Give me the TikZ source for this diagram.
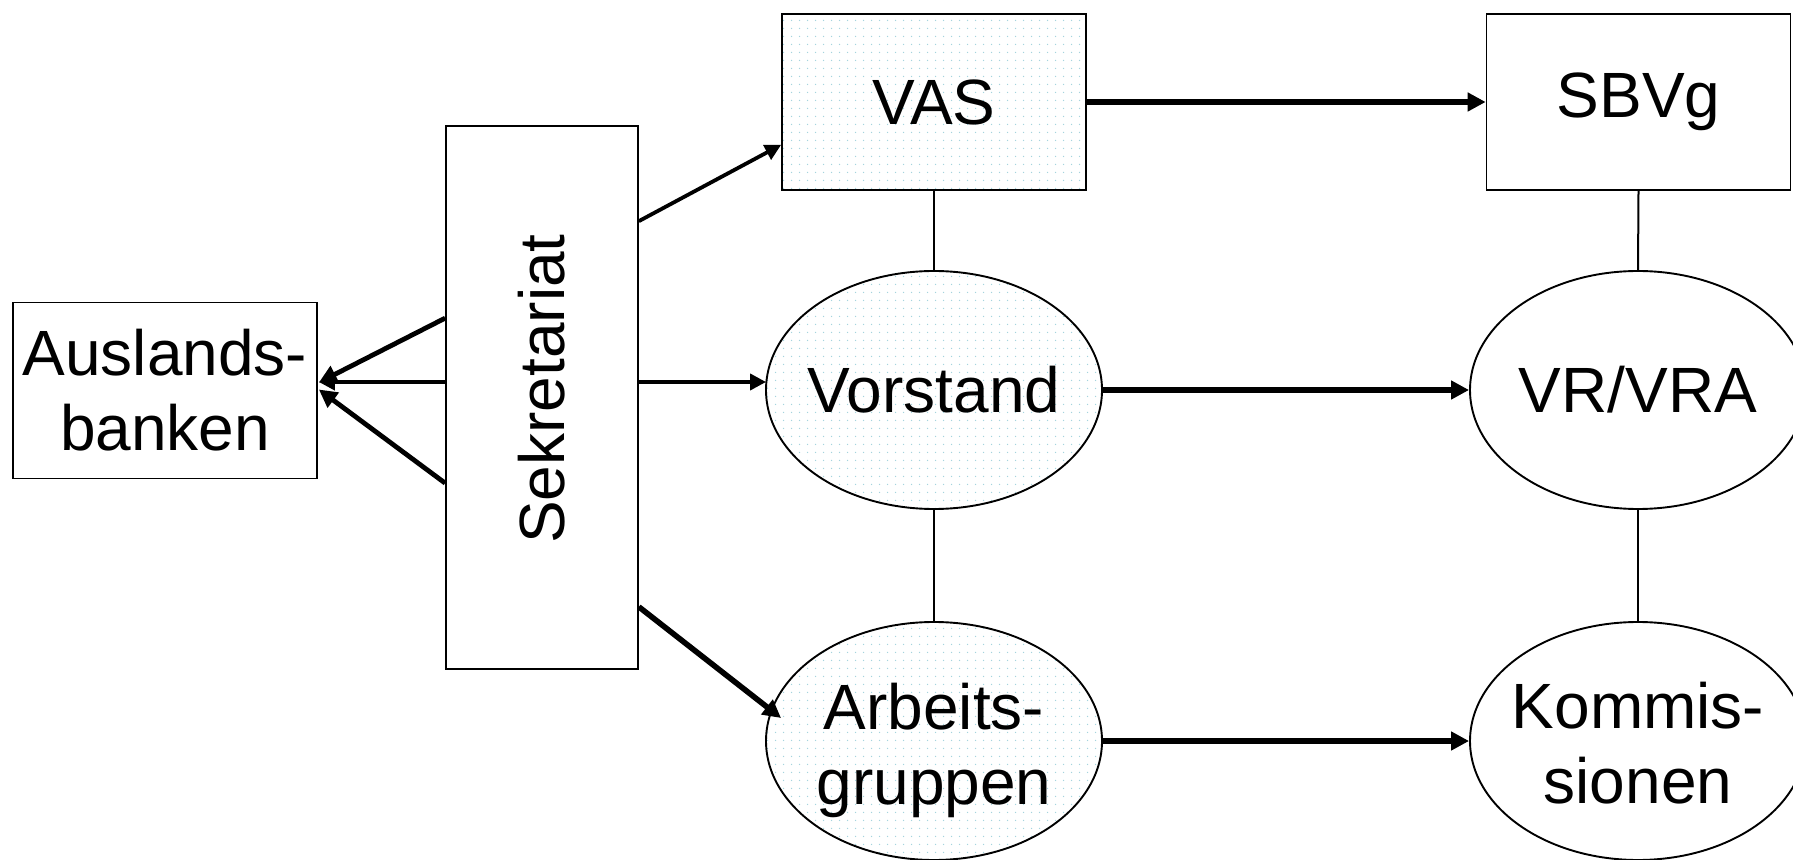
\documentclass[tikz,border=0pt]{standalone}
\usepackage{fontspec}
\setmainfont{Liberation Sans}
\usetikzlibrary{shapes.geometric,arrows.meta,patterns.meta,calc}
\definecolor{dotc}{RGB}{165,212,222}
\tikzset{
  lbl/.style={font=\fontsize{32}{37.5}\selectfont, align=center, inner sep=0pt},
  box/.style={lbl, draw, line width=0.85pt, rectangle, inner sep=0pt,
              minimum width=152pt, minimum height=88pt},
  oval/.style={draw, line width=0.95pt, ellipse, inner sep=0pt,
              minimum width=168pt, minimum height=119pt},
  dotfill/.style={pattern={Dots[distance=4pt,radius=0.4pt]}, pattern color=dotc},
  thin link/.style={line width=1pt},
  heavyarrow/.style={line width=2.8pt, -{Triangle[length=9pt,width=9pt]}},
  midarrow/.style={line width=1.9pt, -{Triangle[length=8pt,width=8pt]}},
}
\begin{document}
\begin{tikzpicture}[x=0.5pt,y=-0.5pt]
\useasboundingbox (0,0) rectangle (1793,860);
\clip (0,0) rectangle (1793,860);
\fill[white] (0,0) rectangle (1793,860);

% nodes
\node[box, dotfill] (vas) at (934,102) {VAS};
\node[box] (sbvg) at (1638.5,102) {SBVg};
\node[oval, dotfill] (vor) at (934,390) {};
\node[lbl] (vortext) at (vor.center) {Vorstand};
\node[oval] (vr) at (1638,390) {};
\node[lbl] (vrtext) at (vr.center) {VR/VRA};
\node[oval, dotfill] (arb) at (934,741) {};
\node[lbl] (arbtext) at ($(arb.center)+(0,9)$) {Arbeits-\\gruppen};
\node[oval] (kom) at (1638,741) {};
\node[lbl] (komtext) at ($(kom.center)+(0,2)$) {Kommis-\\sionen};
\node[box] (aus) at (165,390.5) {Auslands-\\banken};
\node[box, minimum width=96pt, minimum height=271.5pt] (sek) at (542,397.5) {};
\node[lbl, rotate=90] (sektext) at (542,389) {Sekretariat};

% vertical links
\draw[thin link] (vas.south) -- (vor.north);
\draw[thin link] (vor.south) -- (arb.north);
\draw[thin link] (sbvg.south) -- (vr.north);
\draw[thin link] (vr.south) -- (kom.north);

% horizontal arrows
\draw[heavyarrow] (vas.east) -- (sbvg.west);
\draw[heavyarrow] (vor.east) -- (vr.west);
\draw[heavyarrow] (arb.east) -- (kom.west);

% Sekretariat to the right
\coordinate (s1) at ($(sek.north east)+(0,96)$);
\coordinate (t1) at ($(vas.south west)+(0,-46)$);
\draw[midarrow] (s1) -- (t1);
\coordinate (t2) at ($(vor.west)+(1,-8)$);
\coordinate (s2) at (sek.east |- t2);
\draw[midarrow] (s2) -- (t2);
\coordinate (s3) at ($(sek.south east)+(0,-63)$);
\coordinate (t3) at ($(arb.west)+(16,-23)$);
\draw[heavyarrow] (s3) -- (t3);

% Sekretariat to Auslandsbanken
\coordinate (a1) at ($(aus.east)+(1,-8)$);
\coordinate (a2) at ($(aus.east)+(1,-8.5)$);
\coordinate (a3) at ($(aus.east)+(1,-1)$);
\draw[line width=2.4pt, -{Triangle[length=9pt,width=9pt]}] ($(sek.north west)+(0,193)$) -- (a1);
\draw[midarrow] (sek.west |- a2) -- (a2);
\draw[line width=2.4pt, -{Triangle[length=9pt,width=9pt]}] ($(sek.north west)+(0,358)$) -- (a3);
\end{tikzpicture}
\end{document}
